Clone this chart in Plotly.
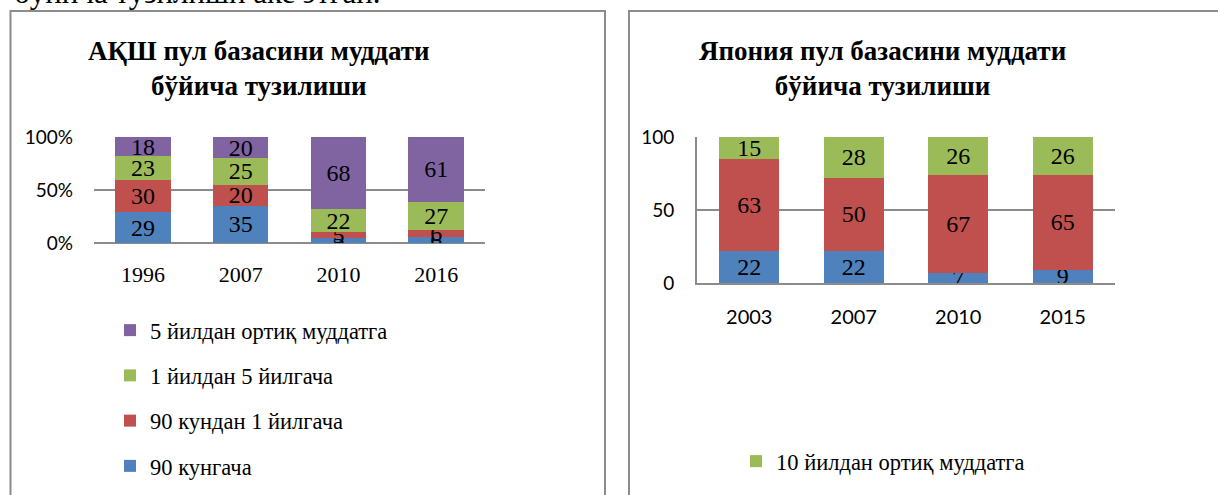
import plotly.graph_objects as go

W, H = 1218, 495

# ---- data: left chart (USA) ----
usa_years = ["1996", "2007", "2010", "2016"]
usa_s1_name = "90 кунгача"
usa_s1 = [29, 35, 5, 6]
usa_s2_name = "90 кундан 1 йилгача"
usa_s2 = [30, 20, 5, 6]
usa_s3_name = "1 йилдан 5 йилгача"
usa_s3 = [23, 25, 22, 27]
usa_s4_name = "5 йилдан ортиқ муддатга"
usa_s4 = [18, 20, 68, 61]
usa_yticks = [0, 50, 100]
usa_yticktext = ["0%", "50%", "100%"]

# ---- data: right chart (Japan) ----
jp_years = ["2003", "2007", "2010", "2015"]
jp_s1_name = "1 йилгача"
jp_s1 = [22, 22, 7, 9]
jp_s2_name = "1 йилдан 10 йилгача"
jp_s2 = [63, 50, 67, 65]
jp_s3_name = "10 йилдан ортиқ муддатга"
jp_s3 = [15, 28, 26, 26]
jp_yticks = [0, 50, 100]

BLUE, RED, GREEN, PURPLE = "#4F81BD", "#C0504D", "#9BBB59", "#8064A2"
SERIF = "Liberation Serif, Times New Roman, serif"
SANS = "Lato, Calibri, sans-serif"
GRID = "#8c8c8c"

def px(x):
    return x / W

def py(y):
    return 1 - y / H

label_font = dict(family=SERIF, size=24, color="black")

fig = go.Figure()

def add_bar(x, y, name, color, xa, ya, legend, showlegend, group, rank):
    fig.add_trace(go.Bar(
        x=x, y=y, name=name, marker=dict(color=color, line=dict(width=0)),
        text=[str(v) for v in y], textposition="inside", insidetextanchor="middle",
        textangle=0, constraintext="none", textfont=label_font,
        xaxis=xa, yaxis=ya, legend=legend, showlegend=showlegend,
        legendgroup=group, legendrank=rank, hoverinfo="x+y+name"))

add_bar(usa_years, usa_s1, usa_s1_name, BLUE, "x", "y", "legend", True, "a1", 4)
add_bar(usa_years, usa_s2, usa_s2_name, RED, "x", "y", "legend", True, "a2", 3)
add_bar(usa_years, usa_s3, usa_s3_name, GREEN, "x", "y", "legend", True, "a3", 2)
add_bar(usa_years, usa_s4, usa_s4_name, PURPLE, "x", "y", "legend", True, "a4", 1)

add_bar(jp_years, jp_s1, jp_s1_name, BLUE, "x2", "y2", "legend2", False, "j1", 3)
add_bar(jp_years, jp_s2, jp_s2_name, RED, "x2", "y2", "legend2", False, "j2", 2)
add_bar(jp_years, jp_s3, jp_s3_name, GREEN, "x2", "y2", "legend2", True, "j3", 1)

fig.update_layout(
    width=W, height=H,
    margin=dict(l=0, r=0, t=0, b=0, autoexpand=False),
    paper_bgcolor="white", plot_bgcolor="white",
    barmode="stack", bargap=0.43,
    showlegend=True,
    xaxis=dict(domain=[px(94), px(485)], anchor="y", showline=False, showgrid=False,
               zeroline=False, ticks="", tickfont=dict(family=SERIF, size=22, color="black"),
               ticklabelstandoff=16, automargin=False),
    yaxis=dict(domain=[py(243), py(137)], anchor="x", range=[0, 100], tickvals=usa_yticks,
               ticktext=usa_yticktext, showgrid=True, gridcolor=GRID, gridwidth=2,
               zeroline=True, zerolinecolor=GRID, zerolinewidth=2, showline=False, ticks="",
               tickfont=dict(family=SANS, size=19, color="black"), ticklabelstandoff=20,
               automargin=False),
    xaxis2=dict(domain=[px(697), px(1115)], anchor="y2", showline=True, linecolor=GRID,
                linewidth=2, showgrid=False, zeroline=False, ticks="",
                tickfont=dict(family=SANS, size=20, color="black"), ticklabelstandoff=15,
                automargin=False),
    yaxis2=dict(domain=[py(283), py(137)], anchor="x2", range=[0, 100], tickvals=jp_yticks,
                showgrid=True, gridcolor=GRID, gridwidth=2, zeroline=False, showline=True,
                linecolor=GRID, linewidth=2, ticks="",
                tickfont=dict(family=SANS, size=19, color="black"), ticklabelstandoff=17,
                automargin=False),
    legend=dict(x=px(110), xanchor="left", y=py(309), yanchor="top",
                traceorder="grouped", tracegroupgap=13,
                font=dict(family=SERIF, size=22.5, color="black"),
                bgcolor="rgba(0,0,0,0)", borderwidth=0),
    legend2=dict(x=px(736), xanchor="left", y=py(440), yanchor="top",
                 font=dict(family=SERIF, size=22.5, color="black"),
                 bgcolor="rgba(0,0,0,0)", borderwidth=0),
    shapes=[
        dict(type="rect", xref="paper", yref="paper", x0=px(10.5), x1=px(605),
             y0=-0.2, y1=py(11), line=dict(color=GRID, width=2), layer="below"),
        dict(type="rect", xref="paper", yref="paper", x0=px(629), x1=1.2,
             y0=-0.2, y1=py(11), line=dict(color=GRID, width=2), layer="below"),
    ],
    annotations=[
        dict(text="АҚШ пул базасини муддати<br>бўйича тузилиши", xref="paper", yref="paper",
             x=px(259), y=py(68), xanchor="center", yanchor="middle", showarrow=False,
             font=dict(family=SERIF, size=27, color="black", weight="bold")),
        dict(text="Япония пул базасини муддати<br>бўйича тузилиши", xref="paper", yref="paper",
             x=px(883), y=py(68), xanchor="center", yanchor="middle", showarrow=False,
             font=dict(family=SERIF, size=27, color="black", weight="bold")),
        dict(text="бўйича тузилиши акс этган.", xref="paper", yref="paper",
             x=px(12), y=py(-7), xanchor="left", yanchor="middle", showarrow=False,
             font=dict(family=SERIF, size=31, color="black")),
    ],
)

fig.write_html("out.html", config={"displayModeBar": False},
               post_script="document.body.style.margin='0px';document.body.style.overflow='hidden';")
